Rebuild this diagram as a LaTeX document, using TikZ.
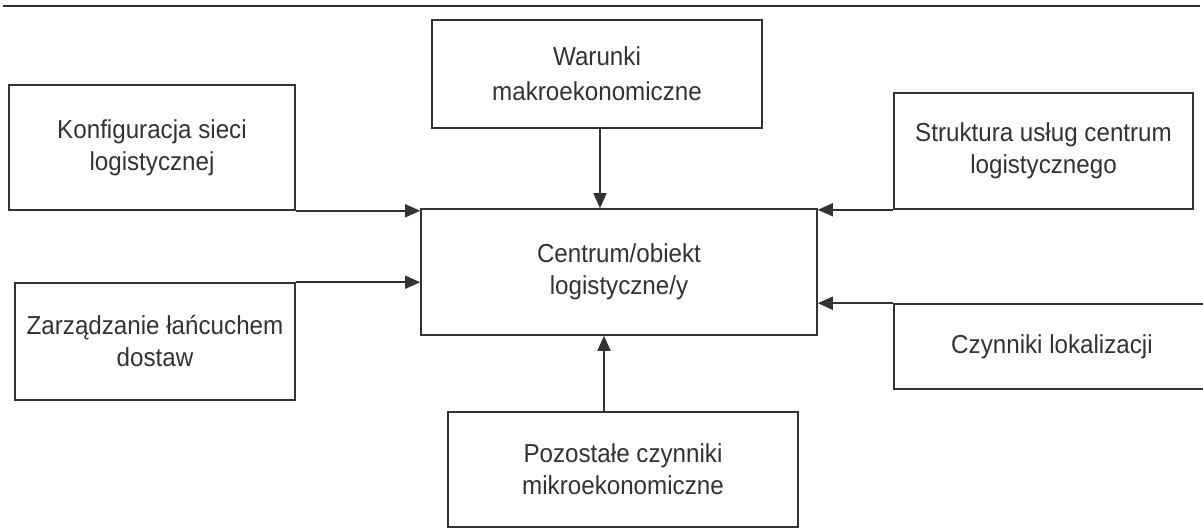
\documentclass[tikz,border=0pt]{standalone}
\usepackage{fontspec}
\setmainfont{Liberation Sans}[FakeStretch=0.93]
\usetikzlibrary{arrows.meta,calc}
\definecolor{ink}{HTML}{333333}
\begin{document}
\begin{tikzpicture}[x=1pt,y=-1pt,
  box/.style={draw=ink,line width=1.6pt,inner sep=0pt,align=center,text=ink,
    font=\fontsize{26}{32}\selectfont},
  arr/.style={draw=ink,line width=1.6pt,-{Triangle[length=15pt,width=13pt]}}]
\useasboundingbox[fill=white] (0,0) rectangle (1203,529);
\clip (0,0) rectangle (1203,529);
\draw[ink,line width=2pt] (3,6) -- (1200,6);
\node[box,minimum width=330pt,minimum height=108pt] (tb) at (597,74) {Warunki\\[3pt]makroekonomiczne};
\node[box,minimum width=396pt,minimum height=126pt] (cb) at (619,272) {Centrum/obiekt\\logistyczne/y};
\node[box,minimum width=286pt,minimum height=125pt] (l1) at (152,147.5) {Konfiguracja sieci\\logistycznej};
\node[box,minimum width=280pt,minimum height=117pt] (l2) at (155,341.5) {Zarządzanie łańcuchem\\dostaw};
\node[box,minimum width=299pt,minimum height=116pt] (r1) at (1043.5,151) {Struktura usług centrum\\logistycznego};
\node[box,minimum width=316pt,minimum height=85pt] (r2) at (1052,346.5) {Czynniki lokalizacji};
\node[box,minimum width=350pt,minimum height=115pt] (bb) at (623,469.5) {Pozostałe czynniki\\mikroekonomiczne};
\draw[arr] ([xshift=3pt]tb.south) coordinate (t1) -- (t1 |- cb.north);
\draw[arr] ([xshift=-19pt]bb.north) coordinate (b1) -- (b1 |- cb.south);
\draw[arr] (l1.south east) -- (l1.south east -| cb.west);
\draw[arr] (l2.north east) -- (l2.north east -| cb.west);
\draw[arr] (r1.south west) -- (r1.south west -| cb.east);
\draw[arr] (r2.north west) -- (r2.north west -| cb.east);
\end{tikzpicture}
\end{document}
